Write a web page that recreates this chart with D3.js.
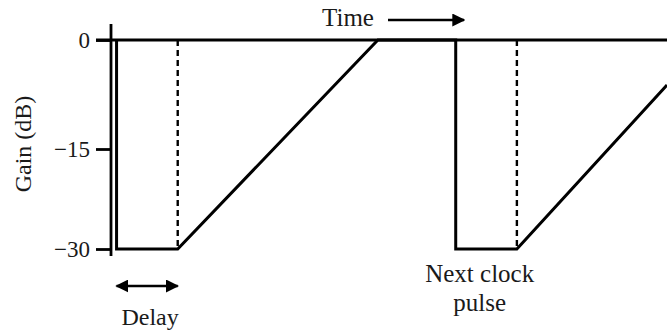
<!DOCTYPE html>
<html>
<head>
<meta charset="utf-8">
<script src="https://cdn.jsdelivr.net/npm/d3@7"></script>
<style>
  body { margin: 0; background: #fff; }
  text { font-family: "Liberation Serif", "DejaVu Serif", serif; fill: #1a1a1a; }
</style>
</head>
<body>
<svg width="667" height="330"></svg>
<script>
// gain curve (time in arbitrary units, gain in dB)
var yTicks = [0, -15, -30];
var curveTime = [1, 1, 12, 48, 62, 62, 73, 100];
var curveGain = [0, -30, -30, 0, 0, -30, -30, -6.2];
var delayMarks = [12, 73];
var delaySpan = [1, 12];
var pulseLabel = ["Next clock", "pulse"];

var svg = d3.select("svg");
var width = +svg.attr("width");

var x = d3.scaleLinear().domain([0, 100]).range([111, 667]);
// the printed axis is slightly uneven, so use the tick positions as read
var y = d3.scaleLinear().domain([0, -15, -30]).range([40, 149, 249]);

var defs = svg.append("defs");
defs.append("marker")
  .attr("id", "head")
  .attr("viewBox", "0 0 10 10")
  .attr("refX", 9)
  .attr("refY", 5)
  .attr("markerWidth", 5)
  .attr("markerHeight", 5)
  .attr("markerUnits", "strokeWidth")
  .attr("orient", "auto-start-reverse")
  .append("path")
  .attr("d", "M0,0L10,5L0,10Z")
  .attr("fill", "#000");

// zero reference line
svg.append("line")
  .attr("x1", 96).attr("x2", width)
  .attr("y1", y(0)).attr("y2", y(0))
  .attr("stroke", "#000").attr("stroke-width", 3);

// y axis
var axis = svg.append("g")
  .attr("transform", "translate(" + x(0) + ",0)")
  .call(d3.axisLeft(y).tickValues(yTicks).tickSize(15).tickPadding(6));
axis.select(".domain").remove();
axis.selectAll(".tick line").attr("stroke", "#000").attr("stroke-width", 2.8);
axis.selectAll(".tick text")
  .attr("font-size", 23)
  .attr("font-family", "Liberation Serif, serif")
  .attr("fill", "#1a1a1a");

svg.append("line")
  .attr("x1", x(0)).attr("x2", x(0))
  .attr("y1", 24).attr("y2", 256)
  .attr("stroke", "#000").attr("stroke-width", 2.8);

svg.append("text")
  .attr("transform", "translate(31," + 144 + ") rotate(-90)")
  .attr("text-anchor", "middle")
  .attr("font-size", 24)
  .attr("fill", "#3a3a3a")
  .text("Gain (dB)");

// gain curve
var pts = curveTime.map(function(t, i) { return [t, curveGain[i]]; });
var line = d3.line()
  .x(function(d) { return x(d[0]); })
  .y(function(d) { return y(d[1]); });

svg.append("path")
  .datum(pts)
  .attr("d", line)
  .attr("fill", "none")
  .attr("stroke", "#000")
  .attr("stroke-width", 3)
  .attr("stroke-linejoin", "miter");

svg.selectAll(".delay")
  .data(delayMarks)
  .enter().append("line")
  .attr("class", "delay")
  .attr("x1", function(d) { return x(d); })
  .attr("x2", function(d) { return x(d); })
  .attr("y1", y(0))
  .attr("y2", y(-30))
  .attr("stroke", "#000")
  .attr("stroke-width", 2.4)
  .attr("stroke-dasharray", "6,4");

// delay arrow
svg.append("line")
  .attr("x1", x(delaySpan[0])).attr("x2", x(delaySpan[1]))
  .attr("y1", 286).attr("y2", 286)
  .attr("stroke", "#000").attr("stroke-width", 2.6)
  .attr("marker-start", "url(#head)")
  .attr("marker-end", "url(#head)");

svg.append("text")
  .attr("x", (x(delaySpan[0]) + x(delaySpan[1])) / 2 + 3)
  .attr("y", 325)
  .attr("text-anchor", "middle")
  .attr("font-size", 24)
  .text("Delay");

// time label
svg.append("text")
  .attr("x", 348)
  .attr("y", 26)
  .attr("text-anchor", "middle")
  .attr("font-size", 25)
  .text("Time");

svg.append("line")
  .attr("x1", 388).attr("x2", 464)
  .attr("y1", 20).attr("y2", 20)
  .attr("stroke", "#000").attr("stroke-width", 2.6)
  .attr("marker-end", "url(#head)");

svg.append("g")
  .selectAll("text")
  .data(pulseLabel)
  .enter().append("text")
  .attr("x", x(62) + 24)
  .attr("y", function(d, i) { return 282 + i * 29; })
  .attr("text-anchor", "middle")
  .attr("font-size", 25)
  .text(function(d) { return d; });
</script>
</body>
</html>
